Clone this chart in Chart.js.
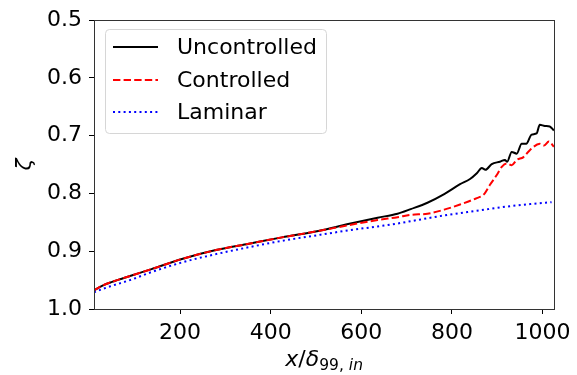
<!DOCTYPE html>
<html>
<head>
<meta charset="utf-8">
<style>
  body { margin: 0; background: #fff; }
  #wrap { width: 577px; height: 375px; }
</style>
</head>
<body>
<div id="wrap">
    <canvas id="myChart" width="577" height="375"></canvas>
</div>

<script src="https://cdn.jsdelivr.net/npm/chart.js"></script>

<script>
    // values
    const xTicks = [200, 400, 600, 800, 1000];
    const yTicks = [0.5, 0.6, 0.7, 0.8, 0.9, 1.0];

    const uncX = [10, 30, 50, 93, 137, 206, 279, 352, 425, 505, 571, 636, 680, 709, 746, 783, 818, 840, 855,
                  866, 874, 888, 906, 917, 922, 932, 943, 954, 964, 976, 987, 994, 1005, 1016, 1025];
    const uncY = [0.968, 0.959, 0.953, 0.942, 0.931, 0.913, 0.898, 0.887, 0.876, 0.865, 0.853, 0.842, 0.835, 0.827, 0.816, 0.801, 0.784, 0.775, 0.765,
                  0.756, 0.759, 0.749, 0.745, 0.742, 0.745, 0.728, 0.731, 0.714, 0.714, 0.698, 0.696, 0.681, 0.683, 0.684, 0.691];

    const conX = [10, 30, 50, 93, 137, 206, 279, 352, 425, 505, 571, 636, 680, 709, 746, 783, 818, 855, 870,
                  884, 899, 910, 921, 932, 943, 958, 972, 994, 1003, 1014, 1025];
    const conY = [0.968, 0.959, 0.953, 0.942, 0.931, 0.913, 0.898, 0.887, 0.876, 0.865, 0.855, 0.846, 0.841, 0.837, 0.835, 0.828, 0.819, 0.808, 0.802,
                  0.785, 0.768, 0.754, 0.748, 0.751, 0.742, 0.737, 0.725, 0.714, 0.717, 0.710, 0.719];

    const lamX = [10, 30, 49, 93, 137, 206, 279, 352, 425, 505, 571, 636, 680, 709, 783, 855, 928, 1020];
    const lamY = [0.971, 0.965, 0.960, 0.949, 0.936, 0.919, 0.905, 0.893, 0.882, 0.872, 0.864, 0.857, 0.852, 0.848, 0.838, 0.830, 0.822, 0.815];

    function pts(xs, ys) {
        return xs.map((x, i) => ({x: x, y: ys[i]}));
    }

    const FONT = 'DejaVu Sans';

    // frame, axis titles and legend box like matplotlib
    const extras = {
        id: 'extras',
        afterDatasetsDraw(chart) {
            const {ctx, chartArea: a} = chart;
            ctx.save();
            ctx.strokeStyle = '#333';
            ctx.lineWidth = 1;
            ctx.strokeRect(Math.round(a.left) + 0.5, Math.round(a.top) + 0.5,
                           Math.round(a.right - a.left), Math.round(a.bottom - a.top));
            ctx.restore();
        },
        afterDraw(chart) {
            const {ctx, chartArea: a} = chart;
            ctx.save();
            ctx.fillStyle = '#000';
            ctx.textBaseline = 'alphabetic';

            // x title: x/δ_{99, in}
            const big = 22, small = 15.5;
            const parts = [
                {t: 'x', f: 'italic ' + big + 'px ' + FONT, dy: 0},
                {t: '/', f: big + 'px ' + FONT, dy: 0},
                {t: 'δ', f: 'italic ' + big + 'px ' + FONT, dy: 0},
                {t: '99, ', f: small + 'px ' + FONT, dy: 4},
                {t: 'in', f: 'italic ' + small + 'px ' + FONT, dy: 4}
            ];
            let w = 0;
            parts.forEach(p => { ctx.font = p.f; p.w = ctx.measureText(p.t).width; w += p.w; });
            let x = (a.left + a.right) / 2 - w / 2;
            parts.forEach(p => { ctx.font = p.f; ctx.fillText(p.t, x, 366 + p.dy); x += p.w; });

            // y title
            ctx.save();
            ctx.translate(25, (a.top + a.bottom) / 2);
            ctx.rotate(-Math.PI / 2);
            ctx.font = 'italic 22px ' + FONT;
            ctx.textAlign = 'center';
            ctx.textBaseline = 'middle';
            ctx.fillText('ζ', 0, 0);
            ctx.restore();

            // legend
            const bx = 105, by = 29, bw = 221, bh = 104, r = 4;
            ctx.beginPath();
            ctx.roundRect(bx + 0.5, by + 0.5, bw, bh, r);
            ctx.fillStyle = 'rgba(255,255,255,0.8)';
            ctx.fill();
            ctx.strokeStyle = '#d6d6d6';
            ctx.lineWidth = 1;
            ctx.stroke();

            const rows = [47, 80, 112];
            chart.data.datasets.forEach((ds, i) => {
                const yy = rows[i];
                ctx.beginPath();
                ctx.setLineDash(ds.borderDash || []);
                ctx.strokeStyle = ds.borderColor;
                ctx.lineWidth = ds.borderWidth;
                ctx.moveTo(113, yy);
                ctx.lineTo(158, yy);
                ctx.stroke();
                ctx.setLineDash([]);
                ctx.fillStyle = '#000';
                ctx.font = '22px ' + FONT;
                ctx.textBaseline = 'middle';
                ctx.fillText(ds.label, 177, yy + 1);
            });
            ctx.restore();
        }
    };

    const ctx = document.getElementById('myChart');

    myChart = new Chart(ctx, {
        type: 'line',
        data: {
            datasets: [{
                label: 'Uncontrolled',
                data: pts(uncX, uncY),
                borderColor: '#000000',
                borderWidth: 2,
                pointRadius: 0,
                order: 3,
                cubicInterpolationMode: 'monotone'
            }, {
                label: 'Controlled',
                data: pts(conX, conY),
                borderColor: '#ff0000',
                borderWidth: 2,
                borderDash: [7.4, 3.2],
                pointRadius: 0,
                order: 2,
                cubicInterpolationMode: 'monotone'
            }, {
                label: 'Laminar',
                data: pts(lamX, lamY),
                borderColor: '#0000ff',
                borderWidth: 2,
                borderDash: [2, 3.3],
                pointRadius: 0,
                order: 1,
                cubicInterpolationMode: 'monotone'
            }]
        },
        options: {
            responsive: false,
            animation: false,
            layout: { padding: { top: 17, right: 19, left: 0, bottom: 0 } },
            plugins: {
                legend: { display: false },
                tooltip: { enabled: false }
            },
            scales: {
                x: {
                    type: 'linear',
                    min: 10,
                    max: 1026,
                    afterBuildTicks: s => { s.ticks = xTicks.map(v => ({value: v})); },
                    afterFit: s => { s.height = 66; },
                    grid: { drawOnChartArea: false, tickLength: 5, color: '#000' },
                    border: { display: false },
                    ticks: {
                        color: '#000',
                        padding: 6,
                        maxRotation: 0,
                        font: { family: FONT, size: 22 },
                        callback: v => String(v)
                    }
                },
                y: {
                    reverse: true,
                    min: 0.5,
                    max: 1.0,
                    afterBuildTicks: s => { s.ticks = yTicks.map(v => ({value: v})); },
                    afterFit: s => { s.width = 94; },
                    grid: { drawOnChartArea: false, tickLength: 5, color: '#000' },
                    border: { display: false },
                    ticks: {
                        color: '#000',
                        padding: 7,
                        font: { family: FONT, size: 22 },
                        callback: v => v.toFixed(1)
                    }
                }
            }
        },
        plugins: [extras]
    });
</script>
</body>
</html>
